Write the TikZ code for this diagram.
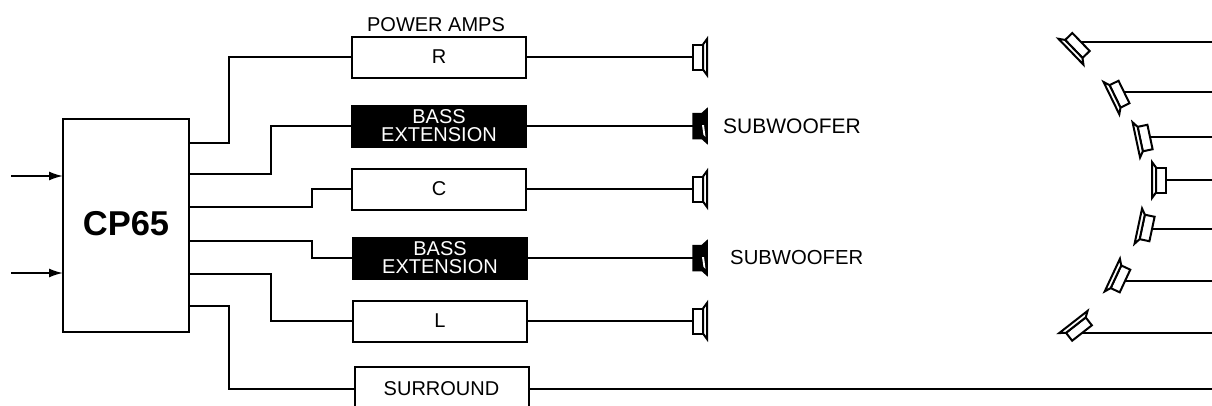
\documentclass[tikz,border=0pt]{standalone}
\usepackage{fontspec}
\setmainfont{Liberation Sans}
\usetikzlibrary{arrows.meta}
\tikzset{
  x=1pt,y=-1pt,
  wire/.style={line width=1.8pt,line join=miter},
  amp/.style={draw,line width=2pt,minimum width=174pt,minimum height=41pt,inner sep=0pt,font=\fontsize{20}{20}\selectfont},
  bass/.style={amp,fill=black,text=white,align=center,font=\fontsize{20}{18}\selectfont},
  lab/.style={inner sep=0pt,font=\fontsize{20}{20}\selectfont},
  spk/.pic={
    \draw[line width=2pt,fill=white] (0,-12.5) rectangle (10,12.5);
    \draw[line width=2pt,line join=miter,fill=white] (10,-12.5) -- (14,-18) -- (14,18) -- (10,12.5) -- cycle;
  },
  sub/.pic={
    \fill[black,draw=black,line width=1.5pt] (0,-12.5) -- (9,-12.5) -- (14,-17) -- (14,17) -- (9,12.5) -- (0,12.5) -- cycle;
    \fill[white] (9,-1) -- (11,-1) -- (12.5,11) -- (10.5,9) -- cycle;
  }
}
\begin{document}
\begin{tikzpicture}
\useasboundingbox (0,0) rectangle (1212,405);
\clip (0,0) rectangle (1212,405);

\node[draw,line width=2pt,minimum width=126pt,minimum height=213pt,inner sep=0pt] (cp) at (126,225.5) {};
\node[inner sep=0pt,font=\fontsize{34.5}{34.5}\selectfont\bfseries] (cpt) at (126,223.5) {CP65};

\node[amp] (r) at (439,57) {R};
\node[bass] (b1) at (439,126) {BASS\\EXTENSION};
\node[amp] (c) at (439,189) {C};
\node[bass] (b2) at (440,258) {BASS\\EXTENSION};
\node[amp] (l) at (440,321) {L};
\node[amp,minimum height=44pt] (su) at (441.5,389) {SURROUND};
\node[lab] (pa) at (436,25) {POWER AMPS};
\node[lab,anchor=west,font=\fontsize{21}{21}\selectfont] (sw1) at (723,126.5) {SUBWOOFER};
\node[lab,anchor=west,font=\fontsize{20.3}{20}\selectfont] (sw2) at (730,257.5) {SUBWOOFER};

% inputs
\coordinate (i1) at (11,176); \coordinate (i2) at (11,273);
\coordinate (c1) at (63,176); \coordinate (c2) at (63,273);
\draw[wire,-{Latex[length=14pt,width=9pt]}] (i1) -- (c1);
\draw[wire,-{Latex[length=14pt,width=9pt]}] (i2) -- (c2);

% CP65 outputs
\coordinate (o1) at (189,143);
\coordinate (o2) at (189,174);
\coordinate (o3) at (189,207);
\coordinate (o4) at (189,241);
\coordinate (o5) at (189,274);
\coordinate (o6) at (189,306);
\draw[wire] (o1) -- ++(40,0) |- (r.west);
\draw[wire] (o2) -- ++(82,0) |- (b1.west);
\draw[wire] (o3) -- ++(123,0) |- (c.west);
\draw[wire] (o4) -- ++(123,0) |- (b2.west);
\draw[wire] (o5) -- ++(82,0) |- (l.west);
\draw[wire] (o6) -- ++(40,0) |- (su.west);

% left speakers
\coordinate (s1) at (693,57);
\coordinate (s2) at (693,126);
\coordinate (s3) at (693,189);
\coordinate (s4) at (693,258);
\coordinate (s5) at (693,321);
\draw[wire] (r.east) -- (s1);
\draw[wire] (b1.east) -- (s2);
\draw[wire] (c.east) -- (s3);
\draw[wire] (b2.east) -- (s4);
\draw[wire] (l.east) -- (s5);
\pic at (s1) {spk};
\pic at (s2) {sub};
\pic at (s3) {spk};
\pic at (s4) {sub};
\pic at (s5) {spk};

% surround array
\coordinate (e0) at (1212,389);
\draw[wire] (su.east) -- (e0);
\coordinate (a1) at (1081,42);   \coordinate (f1) at (1212,42);
\coordinate (a2) at (1124,92);   \coordinate (f2) at (1212,92);
\coordinate (a3) at (1150,137);  \coordinate (f3) at (1212,137);
\coordinate (a4) at (1166,180);  \coordinate (f4) at (1212,180);
\coordinate (a5) at (1152,229);  \coordinate (f5) at (1212,229);
\coordinate (a6) at (1125,281);  \coordinate (f6) at (1212,281);
\coordinate (a7) at (1082,333);  \coordinate (f7) at (1212,333);
\foreach \n in {1,...,7} \draw[wire] (a\n) -- (f\n);
\pic[rotate=224] at (a1) {spk};
\pic[rotate=206] at (a2) {spk};
\pic[rotate=192] at (a3) {spk};
\pic[rotate=180] at (a4) {spk};
\pic[rotate=168] at (a5) {spk};
\pic[rotate=155] at (a6) {spk};
\pic[rotate=128] at (a7) {spk};
\end{tikzpicture}
\end{document}
